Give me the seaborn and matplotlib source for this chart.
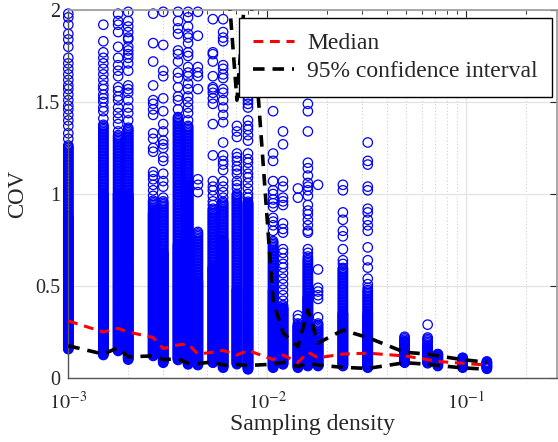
import numpy as np
import pandas as pd
import matplotlib
matplotlib.use("Agg")
import matplotlib.pyplot as plt
import seaborn as sns
from matplotlib.ticker import LogLocator, FixedLocator, NullFormatter, FixedFormatter

# ---------------- data ----------------
density = [0.001, 0.0015, 0.00178, 0.002, 0.00267, 0.003, 0.00356, 0.004,
           0.00448, 0.00533, 0.006, 0.00704, 0.008, 0.0107, 0.012, 0.01426,
           0.016, 0.018, 0.024, 0.032, 0.049, 0.064, 0.072, 0.096, 0.127]

# dense (overlapping) part of each column: lowest value, top of solid part, top of ring part
band_low = [0.157, 0.125, 0.147, 0.10, 0.12, 0.083, 0.098, 0.074, 0.07, 0.083,
            0.056, 0.075, 0.047, 0.056, 0.074, 0.056, 0.065, 0.065, 0.065, 0.056,
            0.083, 0.08, 0.065, 0.056, 0.05]
band_solid_top = [0.88, 1.0, 1.0, 1.0, 0.9, 0.68, 0.73, 1.05, 0.53, 0.6,
                  0.75, 0.48, 0.95, 0.48, 0.38, 0.28, 0.44, 0.20, 0.35, 0.35,
                  0.20, 0.18, 0.13, 0.11, 0.09]
band_ring_top = [1.27, 1.38, 1.32, 1.36, 0.97, 0.96, 1.42, 1.37, 0.80, 0.92,
                 0.96, 1.0, 0.96, 0.75, 0.40, 0.30, 0.65, 0.30, 0.60, 0.48,
                 0.23, 0.22, 0.13, 0.11, 0.09]

# individually visible circles above the dense part
sparse_points = [
    [1.30, 1.33, 1.37, 1.40, 1.43, 1.46, 1.48, 1.51, 1.54, 1.57, 1.59, 1.62, 1.65,
     1.68, 1.71, 1.74, 1.80, 1.84, 1.87, 1.92, 1.96, 1.98],
    [1.41, 1.45, 1.47, 1.50, 1.52, 1.54, 1.57, 1.59, 1.62, 1.65, 1.68, 1.71, 1.74,
     1.77, 1.83, 1.92],
    [1.34, 1.38, 1.41, 1.44, 1.47, 1.51, 1.53, 1.56, 1.58, 1.64, 1.67, 1.70, 1.74,
     1.80, 1.88, 1.92, 1.94, 1.98],
    [1.40, 1.44, 1.47, 1.51, 1.55, 1.57, 1.59, 1.67, 1.71, 1.74, 1.76, 1.78, 1.80,
     1.84, 1.85, 1.88, 1.91, 1.94, 1.99],
    [0.99, 1.02, 1.05, 1.08, 1.10, 1.12, 1.23, 1.25, 1.30, 1.33, 1.43, 1.46, 1.49,
     1.51, 1.59, 1.72, 1.82, 1.98],
    [0.98, 1.04, 1.07, 1.11, 1.18, 1.20, 1.25, 1.27, 1.29, 1.34, 1.38, 1.45, 1.52,
     1.64, 1.67, 1.81, 1.99],
    [1.46, 1.51, 1.53, 1.58, 1.63, 1.66, 1.72, 1.76, 1.78, 1.87, 1.90, 1.94, 1.99],
    [1.40, 1.44, 1.47, 1.50, 1.53, 1.57, 1.60, 1.64, 1.66, 1.69, 1.75, 1.77, 1.82,
     1.85, 1.87, 1.91, 1.96, 1.99],
    [1.01, 1.05, 1.08, 1.57, 1.64, 1.66, 1.69, 1.86, 1.99],
    [0.94, 0.96, 0.99, 1.02, 1.04, 1.07, 1.21, 1.38, 1.49, 1.52, 1.55, 1.57, 1.58,
     1.64, 1.72, 1.76, 1.77, 1.95],
    [0.98, 1.01, 1.04, 1.07, 1.13, 1.16, 1.18, 1.21, 1.28, 1.39, 1.43, 1.47, 1.51,
     1.55, 1.57, 1.63, 1.65, 1.68, 1.70, 1.83, 1.85, 1.88, 1.95],
    [1.03, 1.05, 1.07, 1.11, 1.13, 1.15, 1.18, 1.20, 1.22, 1.31, 1.34, 1.37],
    [0.98, 1.00, 1.03, 1.06, 1.09, 1.11, 1.14, 1.17, 1.19, 1.22, 1.29, 1.32, 1.35,
     1.37, 1.40, 1.47, 1.49, 1.51, 1.53],
    [0.80, 0.83, 0.85, 0.87, 0.93, 0.95, 0.97, 1.00, 1.02, 1.07, 1.18, 1.22, 1.45],
    [0.42, 0.45, 0.48, 0.51, 0.54, 0.57, 0.60, 0.62, 0.65, 0.68, 0.70, 0.79, 0.81,
     0.84, 0.94, 0.96, 0.98, 1.04, 1.07, 1.27, 1.34],
    [0.32, 0.34, 0.98, 1.03],
    [0.66, 0.68, 0.70, 0.79, 0.80, 0.83, 0.86, 0.89, 0.91, 0.94, 0.99, 1.02, 1.04,
     1.06, 1.10, 1.14, 1.17, 1.34, 1.45, 1.49],
    [0.33, 0.43, 0.45, 0.47, 0.49, 0.59, 1.05],
    [0.62, 0.64, 0.70, 0.77, 0.80, 0.86, 0.90, 1.02, 1.05],
    [0.49, 0.51, 0.54, 0.60, 0.64, 0.71, 0.80, 0.83, 0.86, 0.90, 0.92, 1.02, 1.04,
     1.16, 1.18, 1.28],
    [],
    [0.29],
    [],
    [],
    [],
]

median = [0.31, 0.25, 0.27, 0.25, 0.22, 0.16, 0.18, 0.185, 0.13, 0.14, 0.15, 0.125,
          0.15, 0.10, 0.125, 0.085, 0.14, 0.11, 0.13, 0.135, 0.12, 0.10, 0.09, 0.08,
          0.07]
ci_lower = [0.175, 0.13, 0.165, 0.115, 0.12, 0.10, 0.105, 0.08, 0.078, 0.088, 0.07,
            0.073, 0.068, 0.075, 0.085, 0.062, 0.08, 0.07, 0.058, 0.052, 0.083, 0.075,
            0.068, 0.055, 0.048]
ci_upper = [np.nan] * 10 + [2.5, 1.51, 2.3, 0.42, 0.245, 0.17, 0.37, 0.19, 0.26,
                            0.22, 0.14, 0.13, 0.12, 0.10, 0.085]

x_ticks = [1e-3, 1e-2, 1e-1]
x_ticklabels = [r"$10^{-3}$", r"$10^{-2}$", r"$10^{-1}$"]
y_ticks = [0, 0.5, 1, 1.5, 2]
y_ticklabels = ["0", "0.5", "1", "1.5", "2"]

# ---------------- build scatter table ----------------
xs, ys = [], []
for d, lo, st, rt, sp in zip(density, band_low, band_solid_top, band_ring_top, sparse_points):
    vals = list(np.arange(lo, st, 0.004)) + list(np.arange(st, rt + 1e-9, 0.008)) + list(sp)
    xs += [d] * len(vals)
    ys += vals
scatter_df = pd.DataFrame({"density": xs, "cov": ys})
stats_df = pd.DataFrame({"density": density, "median": median,
                         "lower": ci_lower, "upper": ci_upper})

# ---------------- plot ----------------
sns.set_style("white")
plt.rcParams["font.family"] = ["Liberation Serif", "DejaVu Serif"]
plt.rcParams["mathtext.fontset"] = "stix"

fig = plt.figure(figsize=(5.58, 4.42), dpi=100)
W, H = 558, 442
ax = fig.add_axes([68.3 / W, (H - 378) / H, (557 - 68.3) / W, (378 - 10) / H])

sns.scatterplot(data=scatter_df, x="density", y="cov", ax=ax, marker="o",
                s=46, facecolor="none", edgecolor=(0, 0, 1), linewidth=0.9,
                legend=False, zorder=2, clip_on=False)

sns.lineplot(data=stats_df, x="density", y="median", ax=ax, color="red",
             linewidth=2.2, label="Median", zorder=3)
ax.lines[-1].set_dashes((3.2, 2.2))
sns.lineplot(data=stats_df, x="density", y="lower", ax=ax, color="black",
             linewidth=2.6, label="95% confidence interval", zorder=3)
ax.lines[-1].set_dashes((3.2, 2.2))
sns.lineplot(data=stats_df.dropna(), x="density", y="upper", ax=ax, color="black",
             linewidth=2.6, zorder=3)
ax.lines[-1].set_dashes((3.2, 2.2))

ax.set_xscale("log")
ax.set_xlim(1e-3, 0.286)
ax.set_ylim(0, 2)

ax.xaxis.set_major_locator(FixedLocator(x_ticks))
ax.xaxis.set_major_formatter(FixedFormatter(x_ticklabels))
ax.xaxis.set_minor_locator(LogLocator(base=10, subs=np.arange(2, 10)))
ax.xaxis.set_minor_formatter(NullFormatter())
ax.yaxis.set_major_locator(FixedLocator(y_ticks))
ax.yaxis.set_major_formatter(FixedFormatter(y_ticklabels))

ax.set_axisbelow(True)
ax.grid(which="major", axis="both", color="#e3e3e3", linewidth=0.9, linestyle="-")
ax.grid(which="minor", axis="x", color="#cfcfcf", linewidth=0.8, linestyle=(0, (1, 2)))

ax.tick_params(which="both", direction="in", top=True, right=True,
               colors="#262626", labelsize=14.5)
ax.tick_params(which="major", length=5, width=0.8)
ax.tick_params(which="minor", length=3, width=0.6)
ax.tick_params(axis="x", which="major", pad=10)
ax.tick_params(axis="y", which="major", pad=6)

for side in ["left", "bottom"]:
    ax.spines[side].set_color("#555555")
    ax.spines[side].set_linewidth(1.0)
for side in ["top", "right"]:
    ax.spines[side].set_color("#9a9a9a")
    ax.spines[side].set_linewidth(1.2)

ax.set_xlabel("Sampling density", fontsize=17, labelpad=0)
ax.set_ylabel("COV", fontsize=16.5, labelpad=5)

leg = ax.legend(loc="upper right", bbox_to_anchor=(0.990, 0.978), borderaxespad=0,
                fontsize=17, frameon=True, fancybox=False, edgecolor="black",
                framealpha=1, handlelength=1.75, handletextpad=0.55,
                borderpad=0.6, labelspacing=0.3)
leg.get_frame().set_linewidth(1.0)
leg.set_zorder(5)

fig.savefig("out.png", dpi=100)
